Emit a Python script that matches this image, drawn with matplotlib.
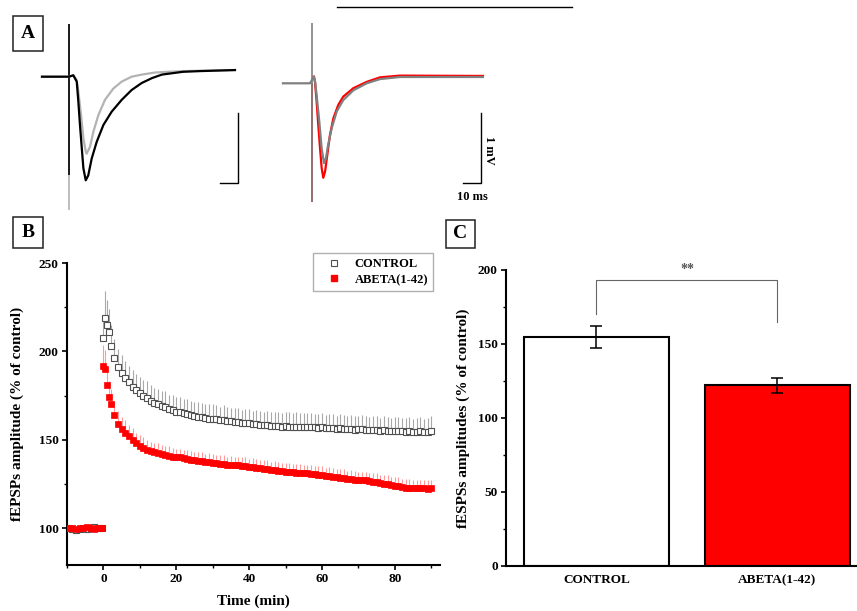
import numpy as np
import matplotlib.pyplot as plt
from matplotlib.lines import Line2D
from matplotlib.patches import Rectangle

plt.rcParams['font.family'] = ['Liberation Serif', 'DejaVu Serif']
plt.rcParams['font.weight'] = 'bold'
plt.rcParams['axes.labelweight'] = 'bold'

# ---------------- panel A: sample fEPSP traces (time in ms, amplitude in mV) ----------------
left_gray_t = [-15, 0, 2.4, 4.3, 5.2, 6.7, 8.0, 9.3, 9.8, 11.7, 13.5, 16.3, 20.0, 24.6,
               29.3, 34.8, 40.4, 47.8, 63.3, 92.2]
left_gray_v = [0, 0, 0.02, -0.05, -0.21, -0.55, -0.88, -1.07, -1.10, -1.00, -0.79, -0.55,
               -0.33, -0.17, -0.07, 0.0, 0.03, 0.06, 0.08, 0.095]
left_black_t = [-15, -1.7, 0, 2.4, 4.3, 5.2, 6.1, 7.1, 8.0, 9.3, 10.7, 12.6, 15.4, 19.1,
                23.7, 29.3, 34.8, 40.4, 46.1, 51.6, 63.3, 72.8, 92.2]
left_black_v = [0, 0, 0, 0.02, -0.07, -0.36, -0.69, -1.02, -1.31, -1.48, -1.41, -1.17, -0.93,
                -0.69, -0.50, -0.33, -0.19, -0.09, -0.02, 0.03, 0.07, 0.08, 0.095]

right_gray_t = [-16.3, -1.3, 0.9, 1.5, 2.4, 3.9, 5.2, 6.5, 7.6, 8.8, 10.8, 13.6, 17.2, 22.8,
                30.2, 37.6, 48.7, 94.8]
right_gray_v = [0, 0, 0.095, 0.03, -0.17, -0.55, -0.93, -1.14, -1.07, -0.88, -0.64, -0.40,
                -0.24, -0.10, 0.0, 0.06, 0.09, 0.09]
right_red_t = [0.9, 1.5, 2.4, 3.3, 4.3, 5.2, 6.1, 7.1, 8.3, 9.8, 11.7, 14.4, 17.2, 22.8,
               30.2, 37.6, 48.7, 94.8]
right_red_v = [0.095, 0.02, -0.26, -0.59, -0.93, -1.21, -1.35, -1.26, -1.03, -0.74, -0.50,
               -0.31, -0.19, -0.07, 0.02, 0.085, 0.11, 0.105]

# ---------------- panel B: fEPSP time course (% of control) ----------------
base_time = np.arange(-9.5, 0, 1.0)
post_time = np.concatenate([[0, 0.5, 1, 1.5], np.arange(2, 91)])

ctrl_base = [100, 99.5, 99, 99.5, 100, 99.5, 100, 100.5, 100, 100]
ctrl_base_err = [1.5, 1.2, 1.5, 1.0, 1.3, 1.5, 1.2, 1.0, 1.4, 1.2]
abeta_base = [100, 100, 99.5, 100, 100, 100.5, 100, 99.5, 100, 100]
abeta_base_err = [1.0, 1.2, 0.8, 1.0, 1.1, 0.9, 1.0, 1.2, 0.9, 1.0]

ctrl_post = [207.6, 219, 215, 211,
             203, 196, 191, 188, 185, 182.5, 180, 178, 176.5,
             175, 173.5, 172, 171, 170, 169, 168.5, 167.5, 167, 166,
             165.5, 165, 164.5, 164, 163.5, 163, 163, 162.5, 162, 162,
             161.5, 161, 161, 160.5, 160.5, 160, 160, 159.5, 159.5, 159.5,
             159, 159, 158.5, 158.5, 158.5, 158, 158, 158, 157.5, 158,
             157.5, 157.5, 157.5, 157, 157.5, 157, 157, 157, 156.5, 157,
             156.5, 156.5, 156.5, 156, 156.5, 156, 156, 156, 155.5, 156,
             156, 155.5, 155.5, 155.5, 155.5, 155, 155.5, 155, 155, 155,
             155, 155, 154.5, 155, 154.5, 154.5, 155, 154.5, 154.5, 155]
ctrl_post_err = [13, 15, 14, 13,
                 12, 11, 10.5, 10, 9.5, 9.5, 9.5, 9, 9,
                 9, 9.5, 9, 8.5, 9, 8.5, 9, 8, 8.5, 8,
                 8.5, 8, 8.5, 8, 8, 8.5, 8, 7.5, 8.5, 8,
                 8, 7.5, 8.5, 8, 7.5, 8, 8, 7.5, 8, 8,
                 7.5, 8, 8, 7.5, 8, 7.5, 8, 8, 7.5, 8,
                 8, 7.5, 8, 8, 7.5, 8, 8, 7.5, 8, 8,
                 7.5, 8, 8, 7.5, 8, 8, 7.5, 8, 8, 7.5,
                 8, 8, 7.5, 8, 8, 7.5, 8, 8, 7.5, 8,
                 8, 7.5, 8, 8, 7.5, 8, 8, 7.5, 8, 8.5]

abeta_post = [191.5, 190, 181, 174,
              170, 164, 159, 156, 154, 152, 150, 148, 146.5,
              145.5, 144.5, 143.5, 143, 142.5, 142, 141.5, 141, 140.5, 140,
              140, 139.5, 139, 138.5, 138.5, 138, 138, 137.5, 137.5, 137,
              137, 136.5, 136.5, 136, 136, 135.5, 135.5, 135, 135, 134.5,
              134.5, 134, 134, 133.5, 133.5, 133, 133, 132.5, 132.5, 132,
              132, 132, 131.5, 131.5, 131, 131, 130.5, 130.5, 130, 130,
              129.5, 129.5, 129, 129, 128.5, 128.5, 128, 128, 127.5, 127.5,
              127, 127, 126.5, 126, 126, 125.5, 125, 125, 124.5, 124,
              124, 123.5, 123, 123, 122.5, 122.5, 122.5, 122.5, 122, 122.5]
abeta_post_err = [12, 11, 10, 9,
                  8.5, 8, 7.5, 7, 7, 6.5, 6.5, 6, 6,
                  6, 5.5, 5.5, 5, 5.5, 5, 5, 5.5, 5, 5,
                  5, 4.5, 5, 5, 4.5, 5, 5, 4.5, 5, 5,
                  4.5, 5, 5, 4.5, 5, 5, 4.5, 5, 5, 4.5,
                  5, 5, 4.5, 5, 5, 4.5, 5, 5, 4.5, 5,
                  5, 4.5, 5, 5, 4.5, 5, 5, 4.5, 5, 5,
                  4.5, 5, 5, 4.5, 5, 5, 4.5, 5, 5, 4.5,
                  5, 5, 4.5, 5, 5, 4.5, 5, 5, 4.5, 5,
                  5, 4.5, 5, 5, 4.5, 5, 5, 4.5, 5, 5]

# ---------------- panel C: mean potentiation ----------------
groups = ['CONTROL', 'ABETA(1-42)']
group_mean = [155, 122]
group_sem = [7.5, 5]
group_colors = ['white', '#ff0000']

W, H = 857, 611
fig = plt.figure(figsize=(W / 100, H / 100), dpi=100)


def fx(px):
    return px / W


def fy(py):
    return 1 - py / H


# ---- panel A ----
PX_PER_MS, PX_PER_MV = 1.8, 70.0
ax_a = fig.add_axes([0, fy(215), 1, 215 / H])
ax_a.set_xlim(0, W / PX_PER_MS)
ax_a.set_ylim(0, 215 / PX_PER_MV)
ax_a.axis('off')

# trace origins (stimulus time / baseline level) inside panel A
LEFT_T0, LEFT_V0 = 69 / PX_PER_MS, (215 - 76.7) / PX_PER_MV
RIGHT_T0, RIGHT_V0 = 312.3 / PX_PER_MS, (215 - 83.3) / PX_PER_MV

ax_a.vlines(LEFT_T0, LEFT_V0 - 1.90, LEFT_V0 + 0.76, color='#b3b3b3', lw=1.2)
ax_a.vlines(LEFT_T0, LEFT_V0 - 1.40, LEFT_V0 + 0.76, color='black', lw=1.2)
ax_a.plot(np.array(left_gray_t) + LEFT_T0, np.array(left_gray_v) + LEFT_V0,
          color='#b3b3b3', lw=1.6)
ax_a.plot(np.array(left_black_t) + LEFT_T0, np.array(left_black_v) + LEFT_V0,
          color='black', lw=1.6)

ax_a.vlines(RIGHT_T0 - 0.4, RIGHT_V0 - 1.70, RIGHT_V0, color='#ff0000', lw=1.2)
ax_a.vlines(RIGHT_T0, RIGHT_V0 - 1.70, RIGHT_V0 + 0.857, color='#808080', lw=1.2)
ax_a.plot(np.array(right_red_t) + RIGHT_T0, np.array(right_red_v) + RIGHT_V0,
          color='#ff0000', lw=1.6)
ax_a.plot(np.array(right_gray_t) + RIGHT_T0, np.array(right_gray_v) + RIGHT_V0,
          color='#808080', lw=1.6)

# scale bars: 10 ms x 1 mV
for corner_t in (238 / PX_PER_MS, 481 / PX_PER_MS):
    corner_v = (215 - 183) / PX_PER_MV
    ax_a.plot([corner_t - 10, corner_t, corner_t], [corner_v, corner_v, corner_v + 1],
              color='black', lw=1.0)
fig.text(fx(489), fy(150), '1 mV', rotation=270, ha='center', va='center', fontsize=9)
fig.text(fx(472), fy(197), '10 ms', ha='center', va='center', fontsize=9)
fig.add_artist(Line2D([fx(337), fx(572)], [fy(7), fy(7)], color='black', lw=1.0))

# ---- panel labels ----
for letter, (x0, y0, x1, y1) in zip('ABC', [(13, 16, 43, 51), (13, 217, 43, 248),
                                          (446, 220, 475, 248)]):
    fig.add_artist(Rectangle((fx(x0), fy(y1)), fx(x1 - x0), (y1 - y0) / H,
                             transform=fig.transFigure, fc='white', ec='#222222', lw=1.1))
    fig.text(fx((x0 + x1) / 2), fy((y0 + y1) / 2), letter, ha='center', va='center',
             fontsize=14)

# ---- panel B ----
ax_b = fig.add_axes([fx(67), fy(565), fx(440 - 67), (565 - 263) / H])
t_all = np.concatenate([base_time, post_time])
c_all = np.concatenate([ctrl_base, ctrl_post])
c_err = np.concatenate([ctrl_base_err, ctrl_post_err])
a_all = np.concatenate([abeta_base, abeta_post])
a_err = np.concatenate([abeta_base_err, abeta_post_err])

ax_b.errorbar(t_all, c_all, yerr=[np.zeros_like(c_err), c_err], fmt='none',
              ecolor='#a8a8a8', elinewidth=0.8, capsize=0, zorder=1)
ax_b.plot(t_all, c_all, ls='none', marker='s', ms=4.8, mfc='white', mec='#505050',
          mew=0.8, zorder=2)
ax_b.errorbar(t_all, a_all, yerr=[np.zeros_like(a_err), a_err], fmt='none',
              ecolor='#ff9a9a', elinewidth=0.8, capsize=0, zorder=3)
ax_b.plot(t_all, a_all, ls='none', marker='s', ms=4.8, mfc='#ff0000', mec='#ff0000',
          mew=0.5, zorder=4)

ax_b.set_xlim(-10, 92.4)
ax_b.set_ylim(79.2, 250)
ax_b.set_xticks([0, 20, 40, 60, 80])
ax_b.set_xticks(np.arange(-10, 91, 10), minor=True)
ax_b.set_yticks([100, 150, 200, 250])
ax_b.set_yticks([125, 175, 225], minor=True)
ax_b.set_xlabel('Time (min)', fontsize=11)
ax_b.set_ylabel('fEPSPs amplitude (% of control)', fontsize=11)
ax_b.xaxis.set_label_coords(0.5, -0.099)
ax_b.yaxis.set_label_coords(-0.115, 0.5)

handles = [Line2D([], [], ls='none', marker='s', ms=4.2, mfc='white', mec='#505050', mew=0.8),
           Line2D([], [], ls='none', marker='s', ms=4.2, mfc='#ff0000', mec='#ff0000')]
ax_b.legend(handles, ['CONTROL', 'ABETA(1-42)'], loc='upper right',
            bbox_to_anchor=(0.981, 1.033), frameon=True, fancybox=False,
            edgecolor='#b0b0b0', framealpha=1, prop={'size': 9, 'weight': 'bold'},
            borderpad=0.4, labelspacing=0.3, handlelength=2.6, handletextpad=0.3,
            borderaxespad=0)

# ---- panel C ----
ax_c = fig.add_axes([fx(506), fy(566), fx(857 - 506), (566 - 270) / H])
xpos = np.arange(len(groups))
ax_c.bar(xpos, group_mean, width=0.8, color=group_colors, edgecolor='black', lw=1.5,
         zorder=2)
ax_c.errorbar(xpos, group_mean, yerr=group_sem, fmt='none', ecolor='black',
              elinewidth=1.1, capsize=4.3, capthick=1.1, zorder=3)
ax_c.plot([0, 0, 1, 1], [170, 193, 193, 165], color='#666666', lw=0.8)
ax_c.text(0.5, 196, '**', ha='center', va='bottom', fontsize=10, color='#555555')

ax_c.set_xlim(-0.5, 1.44)
ax_c.set_ylim(0, 200)
ax_c.set_xticks(xpos)
ax_c.set_xticklabels(groups, fontsize=9.5)
ax_c.set_yticks([0, 50, 100, 150, 200])
ax_c.set_yticks([25, 75, 125, 175], minor=True)
ax_c.set_ylabel('fESPSs amplitudes (% of control)', fontsize=11)
ax_c.yaxis.set_label_coords(-0.103, 0.5)

for ax in (ax_b, ax_c):
    for side in ('top', 'right'):
        ax.spines[side].set_visible(False)
    for side in ('left', 'bottom'):
        ax.spines[side].set_linewidth(1.5)
    ax.tick_params(which='major', direction='out', length=3.5, width=1.2, labelsize=9.5,
                   pad=2.5)
    ax.tick_params(which='minor', direction='out', length=2.2, width=1.0)
ax_c.tick_params(axis='x', which='both', length=0, pad=6)

fig.savefig('out.png', dpi=100)
